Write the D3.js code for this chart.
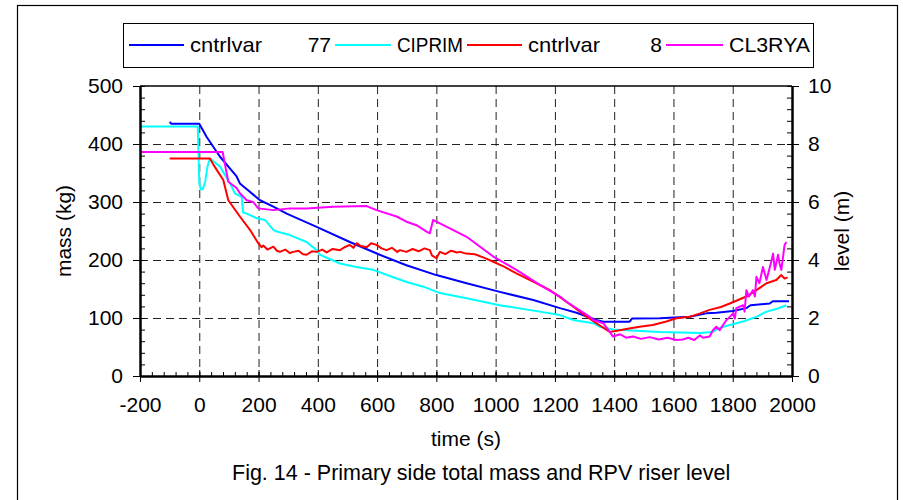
<!DOCTYPE html>
<html>
<head>
<meta charset="utf-8">
<script src="https://cdn.jsdelivr.net/npm/d3@7"></script>
<style>
  body { margin: 0; background: #fff; }
  svg text { font-family: "Liberation Sans", Arial, sans-serif; fill: #000; }
</style>
</head>
<body>
<div id="chart"></div>
<script>
// ── Data (time in s; mass in kg, level in m) ──
const seriesNames = ['cntrlvar 77', 'CIPRIM', 'cntrlvar 8', 'CL3RYA'];
const seriesColors = ['#0000ff', '#00ffff', '#ff0000', '#ff00ff'];

// cntrlvar 77 – mass (kg), left axis
const massBlue = [
  [-100,438],[-95,435],[0,435],[25,412],[70,378],[126,344],[137,332],[205,303],
  [250,292],[295,280],[396,257],[508,231],[609,209],[699,191],[800,174],[902,160],
  [1014,145],[1127,131],[1217,117],[1273,109],[1340,96.5],[1363,93.6],[1452,93.6],
  [1460,99],[1554,99.5],[1655,102],[1711,108],[1745,109],[1800,112],[1846,117],
  [1860,122],[1925,125],[1935,129],[1990,129]
];

// CIPRIM – level (m), right axis
const levelCyan = [
  [-200,8.6],[-5,8.6],[0,6.64],[5,6.44],[12,6.44],[20,6.7],[28,7.24],[36,7.5],
  [70,7.22],[104,6.64],[120,6.3],[143,6.18],[148,5.64],[160,5.6],[194,5.44],
  [222,5.38],[250,5.04],[261,4.98],[306,4.86],[362,4.62],[396,4.34],[407,4.18],
  [475,3.88],[530,3.76],[587,3.66],[666,3.36],[700,3.24],[756,3.08],[812,2.86],
  [902,2.68],[1014,2.44],[1149,2.22],[1217,2.1],[1262,1.93],[1329,1.82],[1351,1.7],
  [1396,1.6],[1441,1.58],[1554,1.52],[1689,1.48],[1733,1.52],[1750,1.64],
  [1790,1.76],[1835,1.88],[1880,2.04],[1914,2.22],[1950,2.32],[1981,2.44]
];

// cntrlvar 8 – mass (kg), left axis
const massRed = [
  [-100,375],[36,375],[48,364],[81,338],[98,303],[137,275],[171,252],[199,229],
  [210,222],[216,225],[230,218],[250,223],[262,216],[272,214],[290,218],[305,212],
  [317,214],[335,216],[350,210],[362,209],[380,215],[396,214],[415,218],[430,213],
  [450,219],[475,217],[490,222],[508,226],[520,221],[531,229],[545,224],[565,222],
  [580,229],[598,226],[615,220],[632,217],[650,221],[668,214],[677,217],[699,214],
  [720,219],[740,215],[760,220],[778,217],[785,208],[800,203],[812,214],[830,210],
  [850,216],[870,213],[880,214],[900,211],[930,210],[960,204],[992,197],[1030,188],
  [1070,177],[1130,162],[1183,148],[1220,135],[1262,119.5],[1300,105],[1340,91],
  [1385,76],[1419,79],[1450,82],[1486,85],[1530,88],[1576,94],[1610,99.5],
  [1655,102],[1690,108],[1722,114],[1760,119],[1790,125],[1846,137],[1880,148],
  [1914,160],[1947,165.5],[1964,174],[1975,168],[1985,170]
];

// CL3RYA – level (m), right axis
const levelMagenta = [
  [-200,7.72],[79,7.72],[87,7.28],[98,6.7],[126,6.48],[137,6.3],[160,6.06],[182,6.0],
  [199,5.78],[250,5.72],[306,5.78],[362,5.78],[452,5.84],[565,5.86],[598,5.72],
  [666,5.5],[699,5.32],[733,5.2],[767,4.98],[778,4.92],[789,5.38],[800,5.32],
  [812,5.26],[902,4.8],[992,4.12],[1070,3.66],[1149,3.14],[1217,2.74],[1239,2.56],
  [1318,2.04],[1329,1.93],[1363,1.82],[1385,1.52],[1396,1.36],[1420,1.44],[1440,1.32],
  [1464,1.36],[1490,1.28],[1520,1.34],[1550,1.26],[1580,1.32],[1610,1.24],[1632,1.26],
  [1650,1.32],[1670,1.24],[1689,1.4],[1700,1.32],[1722,1.36],[1733,1.58],[1745,1.7],
  [1756,1.58],[1779,1.93],[1790,2.04],[1801,2.16],[1807,1.98],[1812,2.34],[1835,2.44],
  [1840,2.22],[1846,2.96],[1855,2.74],[1868,2.96],[1875,2.74],[1880,3.42],[1890,3.2],
  [1902,3.76],[1914,3.31],[1930,3.94],[1936,4.22],[1942,3.66],[1953,4.18],[1958,3.88],
  [1964,3.66],[1975,4.52],[1981,4.62]
];

const xTicks = [-200, 0, 200, 400, 600, 800, 1000, 1200, 1400, 1600, 1800, 2000];
const massTicks = [0, 100, 200, 300, 400, 500];
const levelTicks = [0, 2, 4, 6, 8, 10];

// ── Layout ──
const W = 903, H = 500;
const plot = { left: 140, right: 792, top: 86, bottom: 376 };

const svg = d3.select('#chart').append('svg')
  .attr('width', W).attr('height', H);

// outer frame
svg.append('rect')
  .attr('x', 17.5).attr('y', 5.5).attr('width', 880).attr('height', 510)
  .attr('fill', 'none').attr('stroke', '#000').attr('stroke-width', 1.2);

const x = d3.scaleLinear().domain([-200, 2000]).range([plot.left, plot.right]);
const yL = d3.scaleLinear().domain([0, 500]).range([plot.bottom, plot.top]);
const yR = d3.scaleLinear().domain([0, 10]).range([plot.bottom, plot.top]);

// Grid
const grid = svg.append('g').attr('stroke', '#222').attr('stroke-width', 1)
  .attr('stroke-dasharray', '8,5');
grid.selectAll('.vg').data(xTicks.slice(1, -1)).enter().append('line')
  .attr('x1', d => x(d) + 0.5).attr('x2', d => x(d) + 0.5)
  .attr('y1', plot.top).attr('y2', plot.bottom);
grid.selectAll('.hg').data(massTicks.slice(1, -1)).enter().append('line')
  .attr('y1', d => yL(d) + 0.5).attr('y2', d => yL(d) + 0.5)
  .attr('x1', plot.left).attr('x2', plot.right);

// Lines
svg.append('clipPath').attr('id', 'clip').append('rect')
  .attr('x', plot.left).attr('y', plot.top)
  .attr('width', plot.right - plot.left).attr('height', plot.bottom - plot.top);

const lineL = d3.line().x(d => x(d[0])).y(d => yL(d[1]));
const lineR = d3.line().x(d => x(d[0])).y(d => yR(d[1]));

const lines = svg.append('g').attr('clip-path', 'url(#clip)')
  .attr('fill', 'none').attr('stroke-width', 2).attr('stroke-linejoin', 'round');
lines.append('path').attr('stroke', seriesColors[1]).attr('d', lineR(levelCyan));
lines.append('path').attr('stroke', seriesColors[0]).attr('d', lineL(massBlue));
lines.append('path').attr('stroke', seriesColors[2]).attr('d', lineL(massRed));
lines.append('path').attr('stroke', seriesColors[3]).attr('d', lineR(levelMagenta));

// top frame
svg.append('line').attr('x1', plot.left).attr('x2', plot.right)
  .attr('y1', plot.top).attr('y2', plot.top)
  .attr('stroke', '#000').attr('stroke-width', 1.5);

// Axes
function styleAxis(g, width) {
  g.select('.domain').attr('stroke', '#000').attr('stroke-width', width);
  g.selectAll('line').attr('stroke', '#000');
  g.selectAll('text').attr('font-size', 21).attr('fill', '#000')
    .attr('font-family', '"Liberation Sans", Arial, sans-serif');
}
const plain = d => String(d);

// left
svg.append('g').attr('transform', `translate(${plot.left},0)`)
  .call(d3.axisRight(yL).tickValues(d3.range(0, 501, 20)).tickSize(5).tickFormat(''))
  .call(g => g.select('.domain').remove())
  .selectAll('line').attr('stroke', '#000');
svg.append('g').attr('transform', `translate(${plot.left},0)`)
  .call(d3.axisLeft(yL).tickValues(massTicks).tickSize(7).tickSizeOuter(0)
    .tickPadding(10).tickFormat(plain))
  .call(g => styleAxis(g, 2.5));

// right
svg.append('g').attr('transform', `translate(${plot.right},0)`)
  .call(d3.axisLeft(yR).tickValues(d3.range(0, 10.01, 0.4)).tickSize(5).tickFormat(''))
  .call(g => g.select('.domain').remove())
  .selectAll('line').attr('stroke', '#000');
svg.append('g').attr('transform', `translate(${plot.right},0)`)
  .call(d3.axisRight(yR).tickValues(levelTicks).tickSize(7).tickSizeOuter(0)
    .tickPadding(9).tickFormat(plain))
  .call(g => styleAxis(g, 2.5));

// bottom
svg.append('g').attr('transform', `translate(0,${plot.bottom})`)
  .call(d3.axisTop(x).tickValues(d3.range(-200, 2001, 40)).tickSize(4).tickFormat(''))
  .call(g => g.select('.domain').remove())
  .selectAll('line').attr('stroke', '#000');
svg.append('g').attr('transform', `translate(0,${plot.bottom})`)
  .call(d3.axisTop(x).tickValues(xTicks).tickSize(6).tickFormat(''))
  .call(g => g.select('.domain').remove())
  .selectAll('line').attr('stroke', '#000');
svg.append('g').attr('transform', `translate(0,${plot.bottom})`)
  .call(d3.axisBottom(x).tickValues(xTicks).tickSize(6).tickSizeOuter(0)
    .tickPadding(15).tickFormat(plain))
  .call(g => styleAxis(g, 2.5));

// Axis titles
svg.append('text').attr('x', (plot.left + plot.right) / 2).attr('y', 446)
  .attr('text-anchor', 'middle').attr('font-size', 21).text('time (s)');
svg.append('text')
  .attr('transform', `translate(71,${(plot.top + plot.bottom) / 2}) rotate(-90)`)
  .attr('text-anchor', 'middle').attr('font-size', 21).text('mass (kg)');
svg.append('text')
  .attr('transform', `translate(849,${(plot.top + plot.bottom) / 2}) rotate(-90)`)
  .attr('text-anchor', 'middle').attr('font-size', 21).text('level (m)');

// Caption
svg.append('text').attr('x', 232).attr('y', 480)
  .attr('font-size', 21.5)
  .text('Fig. 14 - Primary side total mass and RPV riser level');

// Legend
const legend = svg.append('g');
legend.append('rect').attr('x', 123.5).attr('y', 23.5).attr('width', 690).attr('height', 44)
  .attr('fill', '#fff').attr('stroke', '#000').attr('stroke-width', 1);

const legendItems = [
  { x1: 129, x2: 184, name: 'cntrlvar', len: 72, tag: '77', tagX: 331 },
  { x1: 335, x2: 391, name: 'CIPRIM', len: 66 },
  { x1: 467, x2: 522, name: 'cntrlvar', len: 72, tag: '8', tagX: 662 },
  { x1: 666, x2: 723, name: 'CL3RYA', len: 81 }
];
legendItems.forEach((d, i) => {
  legend.append('line').attr('x1', d.x1).attr('x2', d.x2)
    .attr('y1', 45).attr('y2', 45)
    .attr('stroke', seriesColors[i]).attr('stroke-width', 2);
  legend.append('text').attr('x', d.x2 + 6).attr('y', 52)
    .attr('font-size', 21)
    .attr('textLength', d.len).attr('lengthAdjust', 'spacingAndGlyphs')
    .text(d.name);
  if (d.tag) {
    legend.append('text').attr('x', d.tagX).attr('y', 52)
      .attr('text-anchor', 'end').attr('font-size', 21).text(d.tag);
  }
});
</script>
</body>
</html>
